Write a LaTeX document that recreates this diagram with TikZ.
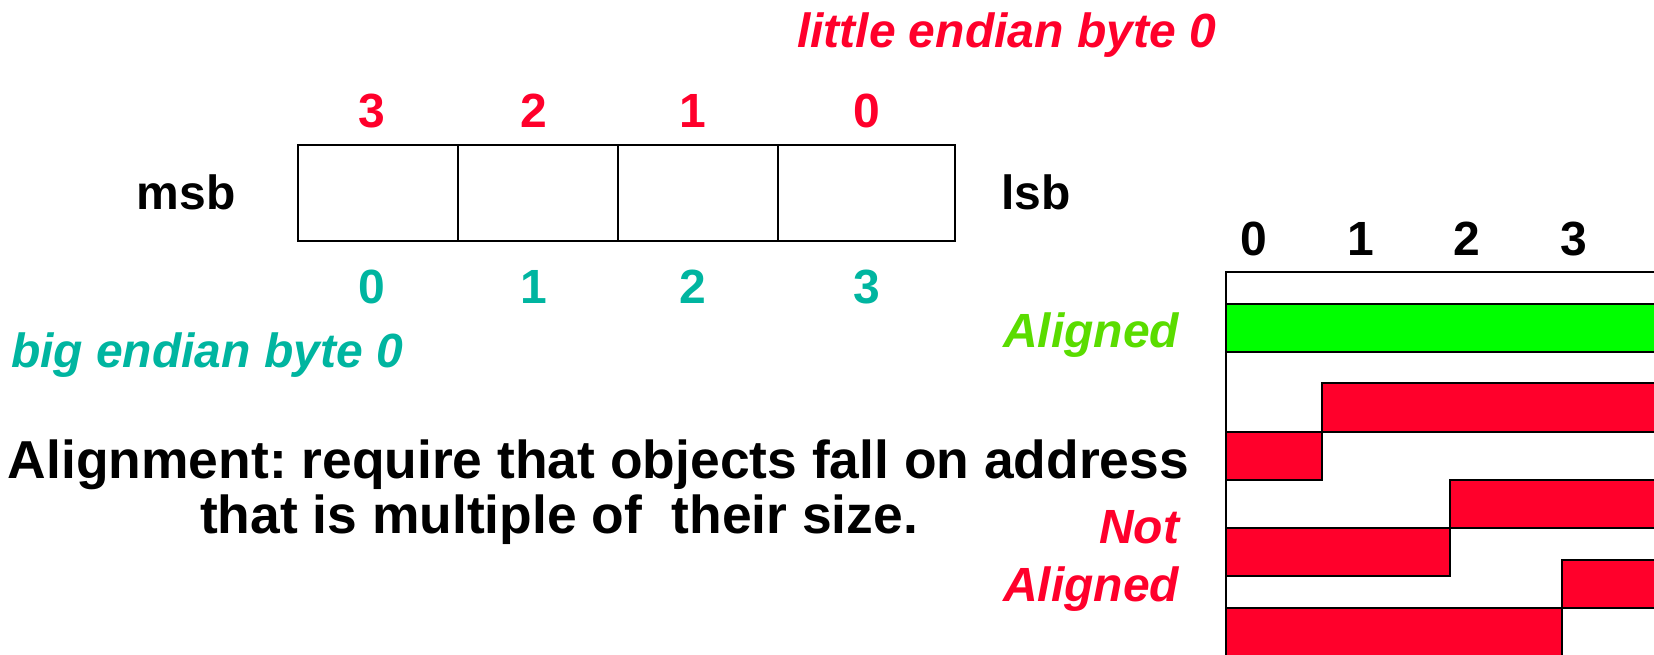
\documentclass[tikz,border=0pt]{standalone}
\usepackage{fontspec}
\setmainfont{Liberation Sans}
\frenchspacing
\definecolor{lered}{RGB}{255,0,43}
\definecolor{beteal}{RGB}{0,181,160}
\definecolor{algreen}{RGB}{90,220,0}
\definecolor{barred}{RGB}{255,0,43}
\definecolor{bargreen}{RGB}{0,255,0}
\tikzset{
  lbl/.style={inner sep=0pt, outer sep=0pt, font=\fontsize{24}{28}\selectfont\bfseries},
  ilbl/.style={inner sep=0pt, outer sep=0pt, font=\fontsize{24}{28}\selectfont\bfseries\itshape},
  big/.style={inner sep=0pt, outer sep=0pt, font=\fontsize{26.7}{30}\selectfont\bfseries},
  frame/.style={draw=black, line width=1pt},
  redbar/.style={draw=black, line width=1pt, fill=barred},
  greenbar/.style={draw=black, line width=1pt, fill=bargreen}
}
\begin{document}
\begin{tikzpicture}[x=0.5pt, y=-0.5pt]
\useasboundingbox (0,0) rectangle (1654,654);
\clip (0,0) rectangle (1654,654);
% byte box
\draw[frame] (297.5,144.5) rectangle (954.6,240.5);
\draw[frame] (458,144.5) -- (458,240.5);
\draw[frame] (618,144.5) -- (618,240.5);
\draw[frame] (778,144.5) -- (778,240.5);
% red digits (little endian)
\node[lbl, text=lered, anchor=base] (l3) at (372,127) {3};
\node[lbl, text=lered, anchor=base] (l2) at (534,127) {2};
\node[lbl, text=lered, anchor=base] (l1) at (693,127) {1};
\node[lbl, text=lered, anchor=base] (l0) at (867,127) {0};
% teal digits (big endian)
\node[lbl, text=beteal, anchor=base] (b0) at (372,303) {0};
\node[lbl, text=beteal, anchor=base] (b1) at (534,303) {1};
\node[lbl, text=beteal, anchor=base] (b2) at (693,303) {2};
\node[lbl, text=beteal, anchor=base] (b3) at (867,303) {3};
% msb / lsb
\node[lbl, anchor=base] (msb) at (186,209) {msb};
\node[lbl, anchor=base] (lsb) at (1036,209) {lsb};
% titles
\node[ilbl, text=lered, anchor=base west] (little) at (797,47) {little endian byte 0};
\node[ilbl, text=beteal, anchor=base west] (bigend) at (11,367) {big endian byte 0};
% alignment text
\node[big, anchor=base west] (al1) at (8,478) {Alignment: require that objects fall on address};
\node[big, anchor=base west] (al2) at (200,533) {that is multiple of\ \ their size.};
% side labels
\node[ilbl, text=algreen, anchor=base east] (aligned) at (1179,347) {Aligned};
\node[ilbl, text=lered, anchor=base east] (notl) at (1179,543) {Not};
\node[ilbl, text=lered, anchor=base east] (nal) at (1179,601) {Aligned};
% right column digits
\node[lbl, anchor=base] (r0) at (1254,255) {0};
\node[lbl, anchor=base] (r1) at (1361,255) {1};
\node[lbl, anchor=base] (r2) at (1467,255) {2};
\node[lbl, anchor=base] (r3) at (1574,255) {3};
% bars
\draw[greenbar] (1226,304) rectangle (1670,352);
\draw[redbar] (1322,383) rectangle (1670,432);
\draw[redbar] (1226,432) rectangle (1322,480);
\draw[redbar] (1450,480) rectangle (1670,528);
\draw[redbar] (1226,528) rectangle (1450,576);
\draw[redbar] (1562,560) rectangle (1670,608);
\draw[redbar] (1226,608) rectangle (1562,670);
% frame of memory column
\draw[frame] (1670,271.7) -- (1226,271.7) -- (1226,670);
\end{tikzpicture}
\end{document}
